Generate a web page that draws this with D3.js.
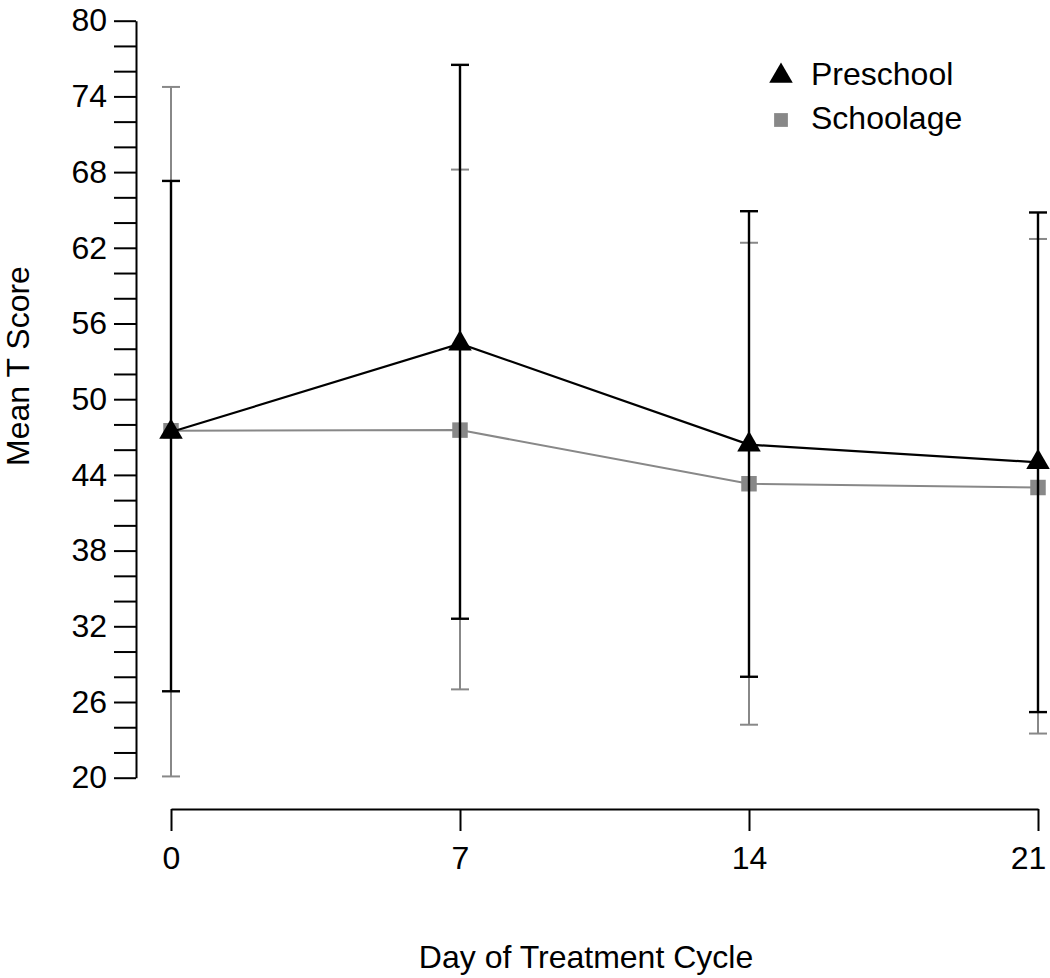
<!DOCTYPE html>
<html>
<head>
<meta charset="utf-8">
<script src="https://cdn.jsdelivr.net/npm/d3@7"></script>
<style>
  html, body { margin: 0; padding: 0; background: #fff; }
  svg { display: block; font-family: "Liberation Sans", Arial, Helvetica, sans-serif; }
</style>
</head>
<body>
<svg id="chart" width="1050" height="978"></svg>
<script>
// ---- data ----
const days = [0, 7, 14, 21];
const preschoolMean = [47.4, 54.4, 46.4, 45.0];
const preschoolUpper = [67.3, 76.5, 64.9, 64.8];
const preschoolLower = [26.85, 32.6, 28.0, 25.2];
const schoolageMean = [47.5, 47.55, 43.3, 43.0];
const schoolageUpper = [74.75, 68.2, 62.4, 62.7];
const schoolageLower = [20.1, 27.0, 24.2, 23.5];
const yTicks = d3.range(20, 81, 2);
const yLabelStep = 6;
const seriesNames = ["Preschool", "Schoolage"];
const xTitle = "Day of Treatment Cycle";
const yTitle = "Mean T Score";

const svg = d3.select("#chart");
const x = d3.scaleLinear().domain([0, 21]).range([171, 1038]);
const y = d3.scaleLinear().domain([20, 80]).range([777.7, 20.7]);

const black = "#000000";
const grey = "#888888";
const fontSize = 32;

// ---- axes ----
const yAxis = d3.axisLeft(y)
  .tickValues(yTicks)
  .tickSize(22)
  .tickSizeOuter(0)
  .tickPadding(7)
  .tickFormat(v => ((v - 20) % yLabelStep === 0 ? String(v) : ""));
const gy = svg.append("g").attr("transform", "translate(136,0)").call(yAxis);
gy.selectAll("path, line").attr("stroke", black).attr("stroke-width", 2);
gy.selectAll("text").attr("font-size", fontSize).attr("fill", black)
  .attr("font-family", "'Liberation Sans', Arial, sans-serif");

const xAxis = d3.axisBottom(x)
  .tickValues(days)
  .tickSize(22)
  .tickSizeOuter(0)
  .tickPadding(15)
  .tickFormat(d3.format("d"));
const gx = svg.append("g").attr("transform", "translate(0,809)").call(xAxis);
gx.selectAll("path, line").attr("stroke", black).attr("stroke-width", 2);
gx.selectAll("text").attr("font-size", fontSize).attr("fill", black)
  .attr("font-family", "'Liberation Sans', Arial, sans-serif")
  .attr("dx", d => (d === 21 ? -10 : 0));

// ---- titles ----
svg.append("text")
  .attr("x", 586).attr("y", 960)
  .attr("text-anchor", "middle").attr("dominant-baseline", "middle")
  .attr("font-size", fontSize).attr("fill", black)
  .text(xTitle);
svg.append("text")
  .attr("transform", "translate(29,366) rotate(-90)")
  .attr("text-anchor", "middle")
  .attr("font-size", fontSize).attr("fill", black)
  .text(yTitle);

// ---- series ----
function drawSeries(means, uppers, lowers, color, symbol, symSize, lineW, barW) {
  const pts = days.map((d, i) => ({ d, m: means[i], u: uppers[i], l: lowers[i] }));
  const g = svg.append("g");
  // error bars
  const eb = g.selectAll(".eb").data(pts).enter().append("g");
  eb.append("line")
    .attr("x1", p => x(p.d)).attr("x2", p => x(p.d))
    .attr("y1", p => y(p.u)).attr("y2", p => y(p.l))
    .attr("stroke", color).attr("stroke-width", barW);
  [p => p.u, p => p.l].forEach(acc => {
    eb.append("line")
      .attr("x1", p => x(p.d) - 9).attr("x2", p => x(p.d) + 9)
      .attr("y1", p => y(acc(p))).attr("y2", p => y(acc(p)))
      .attr("stroke", color).attr("stroke-width", barW);
  });
  // mean line
  g.append("path")
    .datum(pts)
    .attr("d", d3.line().x(p => x(p.d)).y(p => y(p.m)))
    .attr("fill", "none").attr("stroke", color).attr("stroke-width", lineW);
  // markers
  g.selectAll(".pt").data(pts).enter().append("path")
    .attr("transform", p => `translate(${x(p.d)},${y(p.m)})`)
    .attr("d", d3.symbol().type(symbol).size(symSize))
    .attr("fill", color);
}

drawSeries(schoolageMean, schoolageUpper, schoolageLower, grey, d3.symbolSquare, 240, 2, 2);
drawSeries(preschoolMean, preschoolUpper, preschoolLower, black, d3.symbolTriangle, 240, 2.2, 2.4);

// ---- legend ----
const legendItems = [
  { name: seriesNames[0], color: black, symbol: d3.symbolTriangle, size: 240, yy: 76 },
  { name: seriesNames[1], color: grey, symbol: d3.symbolSquare, size: 190, yy: 120 }
];
const lg = svg.append("g");
legendItems.forEach(it => {
  lg.append("path")
    .attr("transform", `translate(781,${it.yy})`)
    .attr("d", d3.symbol().type(it.symbol).size(it.size))
    .attr("fill", it.color);
  lg.append("text")
    .attr("x", 811).attr("y", it.yy + 1)
    .attr("dominant-baseline", "middle")
    .attr("font-size", fontSize).attr("fill", black)
    .text(it.name);
});
</script>
</body>
</html>
